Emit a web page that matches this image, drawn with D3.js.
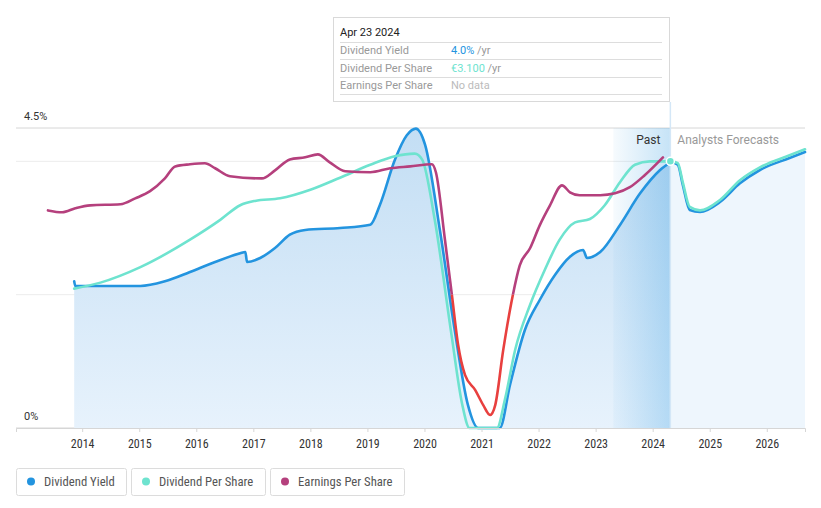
<!DOCTYPE html>
<html>
<head>
<meta charset="utf-8">
<script src="https://cdn.jsdelivr.net/npm/d3@7"></script>
<style>
  body { margin: 0; background: #fff; font-family: Roboto, "Noto Sans", sans-serif; }
  svg text { font-family: Roboto, "Noto Sans", sans-serif; }
  svg text.narrow { font-family: "Roboto Condensed", "Liberation Sans Narrow", Roboto, sans-serif; }
</style>
</head>
<body>
<svg id="chart" width="821" height="508"></svg>
<script>
// dates as decimal years
const yieldPast = [
  [2013.86, 2.20], [2013.88, 2.13], [2014.32, 2.13], [2015.02, 2.13], [2015.45, 2.20],
  [2015.89, 2.34], [2016.33, 2.49], [2016.77, 2.62], [2016.86, 2.64], [2016.89, 2.49],
  [2017.12, 2.55], [2017.38, 2.70], [2017.64, 2.90], [2017.91, 2.97], [2018.52, 3.00],
  [2019.05, 3.05], [2019.22, 3.35], [2019.48, 4.02], [2019.69, 4.39], [2019.85, 4.49],
  [2020.01, 4.25], [2020.27, 2.97], [2020.53, 1.47], [2020.76, 0.35], [2020.94, 0],
  [2021.32, 0], [2021.50, 0.65], [2021.76, 1.47], [2022.02, 1.92], [2022.29, 2.30],
  [2022.55, 2.57], [2022.78, 2.67], [2022.85, 2.55], [2023.08, 2.64], [2023.43, 3.05],
  [2023.78, 3.52], [2024.13, 3.87], [2024.32, 3.99]
];
const yieldForecast = [
  [2024.32, 3.99], [2024.44, 3.95], [2024.53, 3.64], [2024.65, 3.27], [2024.83, 3.24],
  [2025.18, 3.39], [2025.53, 3.67], [2025.88, 3.87], [2026.40, 4.05], [2026.67, 4.14]
];
const dpsPast = [
  [2013.86, 1.62], [2014.32, 1.69], [2015.02, 1.87], [2015.89, 2.19], [2016.42, 2.42],
  [2016.77, 2.59], [2017.03, 2.64], [2017.47, 2.67], [2018.0, 2.77], [2018.52, 2.91],
  [2019.05, 3.06], [2019.48, 3.16], [2019.83, 3.19], [2019.96, 3.12], [2020.18, 2.42],
  [2020.47, 1.10], [2020.66, 0.28], [2020.79, 0], [2021.27, 0], [2021.41, 0.33],
  [2021.59, 0.91], [2021.85, 1.43], [2022.11, 1.84], [2022.37, 2.19], [2022.64, 2.39],
  [2022.90, 2.43], [2023.16, 2.59], [2023.43, 2.86], [2023.69, 3.06], [2023.95, 3.10],
  [2024.32, 3.10]
];
const dpsForecast = [
  [2024.32, 3.10], [2024.44, 3.08], [2024.53, 2.85], [2024.65, 2.57], [2024.83, 2.53],
  [2025.18, 2.65], [2025.53, 2.88], [2025.88, 3.03], [2026.40, 3.17], [2026.67, 3.24]
];
const epsPast = [
  [2013.40, 3.16], [2013.65, 3.09], [2013.88, 3.24], [2014.14, 3.35], [2014.67, 3.39],
  [2014.93, 3.61], [2015.19, 3.88], [2015.45, 4.36], [2015.63, 4.81], [2015.89, 4.89],
  [2016.15, 4.93], [2016.33, 4.74], [2016.59, 4.44], [2017.15, 4.36], [2017.38, 4.66],
  [2017.64, 5.07], [2017.91, 5.15], [2018.13, 5.26], [2018.34, 4.96], [2018.61, 4.63],
  [2019.05, 4.59], [2019.40, 4.74], [2019.75, 4.81], [2020.13, 4.89], [2020.20, 4.59],
  [2020.36, 2.04], [2020.48, 0], [2020.59, -1.89], [2020.71, -3.01], [2020.89, -3.58],
  [2021.03, -4.14], [2021.15, -4.51], [2021.24, -4.14], [2021.38, -2.08], [2021.55, 0],
  [2021.67, 1.10], [2021.85, 1.74], [2022.02, 2.60], [2022.20, 3.35], [2022.41, 4.10],
  [2022.55, 3.84], [2022.72, 3.73], [2023.08, 3.73], [2023.34, 3.80], [2023.60, 4.03],
  [2023.86, 4.48], [2024.18, 5.15]
];
const yearTicks = [2014, 2015, 2016, 2017, 2018, 2019, 2020, 2021, 2022, 2023, 2024, 2025, 2026];
const yTicks = [0, 2, 4, 4.5];
const yLabels = [[4.5, "4.5%"], [0, "0%"]];
const nowDate = 2024.31;
const pastStart = 2023.31;
const tooltipRows = [
  ["Dividend Yield", "4.0%", "#2394df"],
  ["Dividend Per Share", "€3.100", "#6ee3cf"],
  ["Earnings Per Share", "No data", null]
];
const legendItems = [
  ["Dividend Yield", "#2394df"],
  ["Dividend Per Share", "#6ee3cf"],
  ["Earnings Per Share", "#b5407d"]
];
const legendWidths = [110, 134, 134];

const colors = { yield: "#2394df", dps: "#6ee3cf", eps: "#b5407d", neg: "#e8403f" };
const plotLeft = 16, plotRight = 805, plotTop = 128, plotBottom = 428;

const svg = d3.select("#chart");
const x = d3.scaleLinear().domain([2012.84, 2026.67]).range([plotLeft, plotRight]);
const y = d3.scaleLinear().domain([0, 4.5]).range([plotBottom, plotTop]);
const yDps = d3.scaleLinear().domain([0, 3.1 * 4.5 / 4]).range([plotBottom, plotTop]);
const yEps = d3.scaleLinear().domain([-5, 5]).range([plotBottom, y(4)]);

const defs = svg.append("defs");
const areaGrad = defs.append("linearGradient").attr("id", "areaGrad")
  .attr("x1", 0).attr("y1", 0).attr("x2", 0).attr("y2", 1);
areaGrad.append("stop").attr("offset", "0%").attr("stop-color", "#c3def4");
areaGrad.append("stop").attr("offset", "100%").attr("stop-color", "#e7f2fc");
const pastGrad = defs.append("linearGradient").attr("id", "pastGrad")
  .attr("x1", 0).attr("y1", 0).attr("x2", 1).attr("y2", 0);
pastGrad.append("stop").attr("offset", "0%").attr("stop-color", "#2394df").attr("stop-opacity", 0.04);
pastGrad.append("stop").attr("offset", "100%").attr("stop-color", "#2394df").attr("stop-opacity", 0.26);

defs.append("clipPath").attr("id", "clipPos").append("rect")
  .attr("x", 0).attr("y", 0).attr("width", 821).attr("height", yEps(0));
defs.append("clipPath").attr("id", "clipNeg").append("rect")
  .attr("x", 0).attr("y", yEps(0)).attr("width", 821).attr("height", 508);

// gridlines
svg.append("g").selectAll("line").data(yTicks).join("line")
  .attr("x1", plotLeft).attr("x2", plotRight)
  .attr("y1", d => y(d)).attr("y2", d => y(d))
  .attr("stroke", d => (d === 4.5 || d === 0) ? "#d6d6d6" : "#ececec")
  .attr("stroke-width", 1);

// area under dividend yield
const area = d3.area().x(d => x(d[0])).y0(plotBottom).y1(d => y(d[1])).curve(d3.curveMonotoneX);
svg.append("path").datum(yieldPast).attr("d", area).attr("fill", "url(#areaGrad)");
svg.append("path").datum(yieldForecast).attr("d", area).attr("fill", "#eef6fd");

// past band
svg.append("rect")
  .attr("x", x(pastStart)).attr("y", plotTop)
  .attr("width", x(nowDate) - x(pastStart)).attr("height", plotBottom - plotTop)
  .attr("fill", "url(#pastGrad)");

// now line
svg.append("line")
  .attr("x1", x(nowDate)).attr("x2", x(nowDate)).attr("y1", 102).attr("y2", plotBottom)
  .attr("stroke", "#d4e7f7").attr("stroke-width", 1.5);

svg.append("text").attr("x", x(nowDate) - 10).attr("y", 144)
  .attr("text-anchor", "end").attr("font-size", 12).attr("fill", "#333").text("Past");
svg.append("text").attr("x", x(nowDate) + 7).attr("y", 144)
  .attr("font-size", 12).attr("fill", "#999").text("Analysts Forecasts");

// lines
const lineY = d3.line().x(d => x(d[0])).y(d => y(d[1])).curve(d3.curveMonotoneX);
const lineD = d3.line().x(d => x(d[0])).y(d => yDps(d[1])).curve(d3.curveMonotoneX);
const lineE = d3.line().x(d => x(d[0])).y(d => yEps(d[1])).curve(d3.curveMonotoneX);

function drawLine(data, gen, color, clip) {
  const p = svg.append("path").datum(data).attr("d", gen)
    .attr("fill", "none").attr("stroke", color).attr("stroke-width", 2.6)
    .attr("stroke-linejoin", "round").attr("stroke-linecap", "round");
  if (clip) p.attr("clip-path", clip);
  return p;
}
drawLine(yieldPast, lineY, colors.yield);
drawLine(yieldForecast, lineY, colors.yield);
drawLine(dpsPast, lineD, colors.dps);
drawLine(dpsForecast, lineD, colors.dps);
drawLine(epsPast, lineE, colors.eps, "url(#clipPos)");
drawLine(epsPast, lineE, colors.neg, "url(#clipNeg)");

svg.append("circle").attr("cx", x(nowDate)).attr("cy", yDps(3.1)).attr("r", 4)
  .attr("fill", colors.dps).attr("stroke", "#fff").attr("stroke-width", 1.5);

// x axis
const xAxis = svg.append("g").attr("transform", `translate(0,${plotBottom})`)
  .call(d3.axisBottom(x).tickValues(yearTicks).tickFormat(d3.format("d")).tickSize(4).tickPadding(7));
xAxis.select(".domain").attr("stroke", "#d6d6d6");
xAxis.selectAll(".tick line").attr("stroke", "#d6d6d6");
xAxis.selectAll(".tick text").attr("class", "narrow").attr("font-size", 12).attr("fill", "#333");

// y labels
svg.append("g").selectAll("text").data(yLabels).join("text")
  .attr("x", 24).attr("y", d => y(d[0]) - 8)
  .attr("font-size", 11).attr("fill", "#333").text(d => d[1]);

// tooltip
const tip = svg.append("g");
tip.append("rect").attr("x", 333.5).attr("y", 17.5).attr("width", 336).attr("height", 84)
  .attr("fill", "#fff").attr("stroke", "#d9d9d9");
tip.append("text").attr("x", 340).attr("y", 36).attr("font-size", 11).attr("fill", "#222").text("Apr 23 2024");
[42, 59, 77, 94].forEach(ly => tip.append("line").attr("x1", 340).attr("x2", 662)
  .attr("y1", ly + 0.5).attr("y2", ly + 0.5).attr("stroke", "#ddd"));
tooltipRows.forEach((r, i) => {
  const ty = 54 + i * 17.5;
  tip.append("text").attr("x", 340).attr("y", ty).attr("font-size", 11).attr("fill", "#999").text(r[0]);
  const t = tip.append("text").attr("x", 451).attr("y", ty).attr("font-size", 11);
  if (r[2]) {
    t.append("tspan").attr("fill", r[2]).text(r[1]);
    t.append("tspan").attr("fill", "#999").text(" /yr");
  } else {
    t.attr("fill", "#bbb").text(r[1]);
  }
});

// legend
const legend = svg.append("g");
let lx = 16;
legendItems.forEach(([label, color], i) => {
  const w = legendWidths[i];
  const g = legend.append("g");
  g.append("rect").attr("x", lx + 0.5).attr("y", 468.5).attr("width", w).attr("height", 27)
    .attr("rx", 2).attr("fill", "#fff").attr("stroke", "#dcdcdc");
  g.append("circle").attr("cx", lx + 15).attr("cy", 481.5).attr("r", 4).attr("fill", color);
  g.append("text").attr("class", "narrow").attr("x", lx + 28).attr("y", 485.5)
    .attr("font-size", 12.7).attr("fill", "#555").text(label);
  lx += w + 5;
});
</script>
</body>
</html>
